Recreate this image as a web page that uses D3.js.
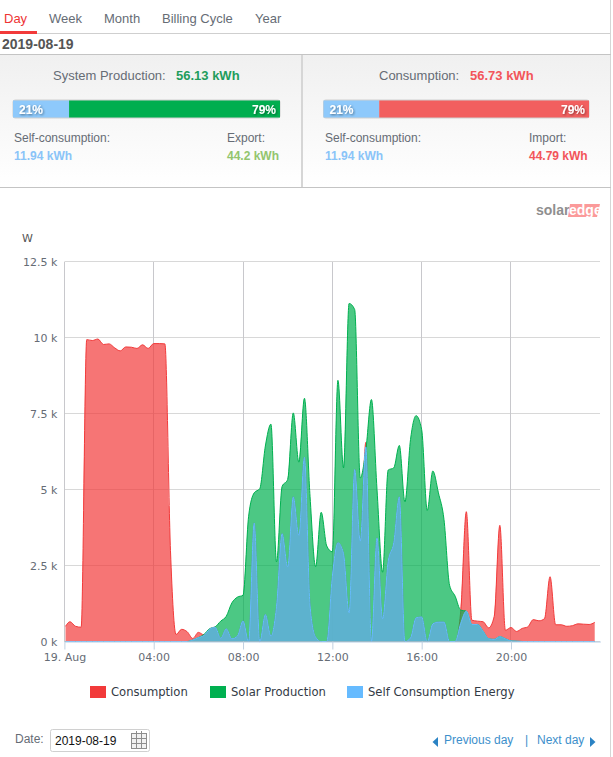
<!DOCTYPE html>
<html>
<head>
<meta charset="utf-8">
<script src="https://cdnjs.cloudflare.com/ajax/libs/d3/7.8.5/d3.min.js"></script>
<style>
html, body { margin: 0; padding: 0; background: #fff; }
svg { display: block; }
text { font-family: "Liberation Sans", Arial, sans-serif; }
</style>
</head>
<body>
<svg id="page" width="613" height="757"></svg>
<script>
// values, in kW, one per quarter hour from 00:00
const consumption = [
  0.5, 0.65, 0.5, 0.47, 9.93, 9.9, 9.95, 9.77,
  9.79, 9.66, 9.56, 9.69, 9.68, 9.64, 9.76, 9.64,
  9.8, 9.8, 9.79, 3.0, 0.23, 0.4, 0.32, 0.1,
  0.3, 0.22, 0.4, 0.47, 0.11, 0.42, 0.09, 0.18,
  0.68, 0, 3.9, 0, 0.89, 0.18, 1.16, 3.55,
  2.46, 4.76, 3.49, 6.06, 1.2, 0.15, 0, 0,
  2.15, 3.25, 2.9, 0.94, 5.66, 3.3, 6.55, 0,
  3.41, 0.75, 2.64, 3.25, 4.76, 0, 0.12, 0.78,
  0.81, 0, 0.58, 0.64, 0.64, 0, 0, 1.0,
  4.27, 0.7, 0.67, 0.65, 0.45, 0.83, 3.82, 0.37,
  0.46, 0.33, 0.43, 0.48, 0.72, 0.68, 0.75, 2.13,
  0.55, 0.55, 0.5, 0.52, 0.58, 0.57, 0.56, 0.63
];
const solar = [
  0, 0, 0, 0, 0, 0, 0, 0,
  0, 0, 0, 0, 0, 0, 0, 0,
  0, 0, 0, 0, 0, 0, 0, 0.05,
  0.13, 0.23, 0.42, 0.48, 0.67, 0.83, 1.27, 1.46,
  1.52, 4.12, 4.89, 5.03, 6.43, 7.15, 2.62, 5.1,
  5.33, 7.52, 5.9, 8.0, 4.78, 2.46, 4.25, 3.14,
  2.95, 8.59, 5.71, 11.12, 10.92, 5.38, 6.3, 7.96,
  5.0, 2.28, 5.64, 5.71, 6.45, 4.59, 6.64, 7.43,
  6.97, 4.31, 5.61, 4.89, 4.01, 1.85, 1.49, 1.03,
  1.0, 0.56, 0.56, 0.34, 0.09, 0.07, 0.16, 0.09,
  0.02, 0.01, 0, 0, 0, 0, 0, 0,
  0, 0, 0, 0, 0, 0, 0, 0
];
const selfConsumption = [
  0, 0, 0, 0, 0, 0, 0, 0,
  0, 0, 0, 0, 0, 0, 0, 0,
  0, 0, 0, 0, 0, 0, 0, 0.05,
  0.13, 0.2, 0.4, 0.47, 0.11, 0.42, 0.09, 0.18,
  0.68, 0, 3.9, 0, 0.89, 0.18, 1.16, 3.55,
  2.46, 4.76, 3.49, 6.06, 1.2, 0.15, 0, 0,
  2.15, 3.25, 2.9, 0.94, 5.66, 3.3, 6.4, 0,
  3.41, 0.75, 2.64, 3.25, 4.76, 0, 0.12, 0.78,
  0.81, 0, 0.58, 0.64, 0.64, 0, 0, 0.6,
  1.0, 0.56, 0.56, 0.34, 0.09, 0.07, 0.16, 0.09,
  0.02, 0.01, 0, 0, 0, 0, 0, 0,
  0, 0, 0, 0, 0, 0, 0, 0
];
const yTicks = [0, 2.5, 5, 7.5, 10, 12.5];
const xTicks = [0, 4, 8, 12, 16, 20];
const xTickLabels = ["19. Aug", "04:00", "08:00", "12:00", "16:00", "20:00"];
const tabs = ["Day", "Week", "Month", "Billing Cycle", "Year"];
const tabX = [4, 49, 104, 162, 255];
const productionShare = [21, 79];
const consumptionShare = [21, 79];
const legendNames = ["Consumption", "Solar Production", "Self Consumption Energy"];
const legendX = [90, 210, 347];

const RED = "#f23a3a", GREEN = "#00b050", BLUE = "#66bbff";
const legendColors = [RED, GREEN, BLUE];

const svg = d3.select("#page");
const defs = svg.append("defs");
const grad = defs.append("linearGradient").attr("id", "panelBg").attr("x1", 0).attr("x2", 0).attr("y1", 0).attr("y2", 1);
grad.append("stop").attr("offset", "0%").attr("stop-color", "#f0f0f0");
grad.append("stop").attr("offset", "100%").attr("stop-color", "#ffffff");
const shadow = defs.append("filter").attr("id", "txtShadow").attr("x", "-20%").attr("y", "-30%").attr("width", "150%").attr("height", "170%");
shadow.append("feDropShadow").attr("dx", 1).attr("dy", 1).attr("stdDeviation", 0.8).attr("flood-color", "#000").attr("flood-opacity", 0.45);

function label(x, y, txt, size, color, weight, anchor) {
  return svg.append("text").attr("x", x).attr("y", y).text(txt)
    .attr("font-size", size).attr("fill", color)
    .attr("font-weight", weight || "normal")
    .attr("text-anchor", anchor || "start");
}
function hline(x1, x2, y, color) {
  svg.append("line").attr("x1", x1).attr("x2", x2).attr("y1", y).attr("y2", y).attr("stroke", color);
}

// ---- tabs and date header
tabs.forEach((t, i) => label(tabX[i], 23, t, 13, i === 0 ? "#ee3333" : "#666c75"));
hline(0, 611, 33.5, "#cfcfcf");
svg.append("rect").attr("x", 0).attr("y", 31).attr("width", 37).attr("height", 3).attr("fill", RED);
label(2, 49, "2019-08-19", 14, "#555", "bold");
svg.append("line").attr("x1", 610.5).attr("x2", 610.5).attr("y1", 0).attr("y2", 757).attr("stroke", "#d5d5d5");

// ---- summary panels
svg.append("rect").attr("x", 0).attr("y", 55).attr("width", 610).attr("height", 132).attr("fill", "url(#panelBg)");
hline(0, 611, 54.5, "#c4c4c4");
hline(0, 611, 187.5, "#c4c4c4");
svg.append("rect").attr("x", 301).attr("y", 55).attr("width", 2).attr("height", 132).attr("fill", "#d6d6d6");

function shareBar(x0, x1, shares, color) {
  const bx = d3.scaleLinear().domain([0, d3.sum(shares)]).range([x0, x1]);
  svg.append("rect").attr("x", x0 - 0.5).attr("y", 99.5).attr("width", x1 - x0 + 1).attr("height", 19)
    .attr("rx", 3).attr("fill", "#cfcfcf");
  svg.append("rect").attr("x", bx(0)).attr("y", 100.5).attr("width", bx(shares[0]) - bx(0)).attr("height", 17).attr("fill", "#8ec9fb");
  svg.append("rect").attr("x", bx(shares[0])).attr("y", 100.5).attr("width", bx(shares[0] + shares[1]) - bx(shares[0])).attr("height", 17).attr("fill", color);
  label(x0 + 6, 114, shares[0] + "%", 12, "#fff", "bold").attr("filter", "url(#txtShadow)");
  label(x1 - 4, 114, shares[1] + "%", 12, "#fff", "bold", "end").attr("filter", "url(#txtShadow)");
}
label(53, 80, "System Production:", 13, "#666c75");
label(176, 80, "56.13 kWh", 13, "#1f9d5c", "bold");
shareBar(13, 280, productionShare, "#00ae4f");
label(14, 142, "Self-consumption:", 12, "#666c75");
label(14, 160, "11.94 kWh", 12, "#8ac4f8", "bold");
label(227, 142, "Export:", 12, "#666c75");
label(227, 160, "44.2 kWh", 12, "#93c56e", "bold");

label(379, 80, "Consumption:", 13, "#666c75");
label(470, 80, "56.73 kWh", 13, "#f2555a", "bold");
shareBar(323.5, 589, consumptionShare, "#f25f5f");
label(325, 142, "Self-consumption:", 12, "#666c75");
label(325, 160, "11.94 kWh", 12, "#8ac4f8", "bold");
label(529, 142, "Import:", 12, "#666c75");
label(529, 160, "44.79 kWh", 12, "#f2555a", "bold");

// ---- logo
label(536, 214.5, "solar", 14, "#8f8f8f", "bold");
svg.append("path").attr("d", d3.line()([[570, 204], [600, 204], [597, 217], [568, 217]])).attr("fill", "#fb9a9a");
label(569, 214.5, "edge", 14, "#fff", "bold");

// ---- chart
const x = d3.scaleLinear().domain([0, 24]).range([64.4, 600.3]);
const y = d3.scaleLinear().domain([0, 12.5]).range([641.5, 261.5]);
const hours = consumption.map((d, i) => i / 4);
hours[0] = 0.05; // the areas start just right of the first tick

const chart = svg.append("g");
const yAxis = d3.axisLeft(y).tickValues(yTicks).tickSize(0).tickPadding(7).tickFormat(d => d + " k");
const yG = chart.append("g").attr("transform", "translate(64.4,0)").call(yAxis);
yG.select(".domain").remove();
yG.selectAll("text").attr("font-size", 11).attr("fill", "#666c75").attr("style", 'font-family:"DejaVu Sans"');

chart.append("g").selectAll("line").data(yTicks).join("line")
  .attr("x1", x(0)).attr("x2", 600).attr("y1", d => y(d)).attr("y2", d => y(d))
  .attr("stroke", "#d8d8d8");
chart.append("g").selectAll("line").data(xTicks).join("line")
  .attr("x1", d => Math.floor(x(d)) + 0.5).attr("x2", d => Math.floor(x(d)) + 0.5).attr("y1", 262).attr("y2", 642)
  .attr("stroke", "#c8c8cc");

const xAxis = d3.axisBottom(x).tickValues(xTicks).tickSize(8).tickSizeOuter(0).tickPadding(4).tickFormat((d, i) => xTickLabels[i]);
const xG = chart.append("g").attr("transform", "translate(0,641.5)").call(xAxis);
xG.selectAll("line").attr("x1", 0).attr("x2", 0).attr("stroke", "#c0d0e0");
xG.selectAll("text").attr("font-size", 11).attr("fill", "#666c75").attr("style", 'font-family:"DejaVu Sans"');

label(22, 242, "W", 11, "#555").attr("style", 'font-family:"DejaVu Sans"');

const area = d3.area().x((d, i) => x(hours[i])).y0(y(0)).y1(d => y(d)).curve(d3.curveMonotoneX);
const line = d3.line().x((d, i) => x(hours[i])).y(d => y(d)).curve(d3.curveMonotoneX);
[[consumption, RED], [solar, GREEN], [selfConsumption, BLUE]].forEach(([vals, col]) => {
  chart.append("path").datum(vals).attr("d", area).attr("fill", col).attr("fill-opacity", 0.7);
  chart.append("path").datum(vals).attr("d", line).attr("fill", "none").attr("stroke", col).attr("stroke-width", 1);
});
// axis line sits on top of the areas
xG.raise();
xG.select(".domain").attr("stroke", "#b4cbe4");

// ---- legend
legendNames.forEach((n, i) => {
  svg.append("rect").attr("x", legendX[i]).attr("y", 686).attr("width", 16).attr("height", 12).attr("fill", legendColors[i]);
  label(legendX[i] + 21, 696, n, 11.6, "#333a45").attr("style", 'font-family:"DejaVu Sans"');
});

// ---- footer
label(15, 743, "Date:", 12, "#666c75");
svg.append("rect").attr("x", 50.5).attr("y", 729.5).attr("width", 99).attr("height", 22).attr("rx", 2).attr("fill", "#fff").attr("stroke", "#d0d0d0");
label(55, 745, "2019-08-19", 12, "#111");
// calendar icon
const cal = svg.append("g").attr("stroke", "#8d8d8d").attr("fill", "none");
cal.append("rect").attr("x", 131.5).attr("y", 733.5).attr("width", 15).attr("height", 15).attr("fill", "#f1f1f1");
[136.5, 141.5].forEach(v => cal.append("line").attr("x1", v).attr("x2", v).attr("y1", 731).attr("y2", 748));
[738.5, 743.5].forEach(v => cal.append("line").attr("x1", 131.5).attr("x2", 146.5).attr("y1", v).attr("y2", v));

const LINK = "#3d8fcb";
label(444, 744, "Previous day", 12, LINK);
label(525, 744, "|", 12, LINK);
label(537, 744, "Next day", 12, LINK);
svg.append("path").attr("d", "M438,737V747L432.5,742Z").attr("fill", "#2b83c4");
svg.append("path").attr("d", "M590,737V747L595.5,742Z").attr("fill", "#2b83c4");
</script>
</body>
</html>
